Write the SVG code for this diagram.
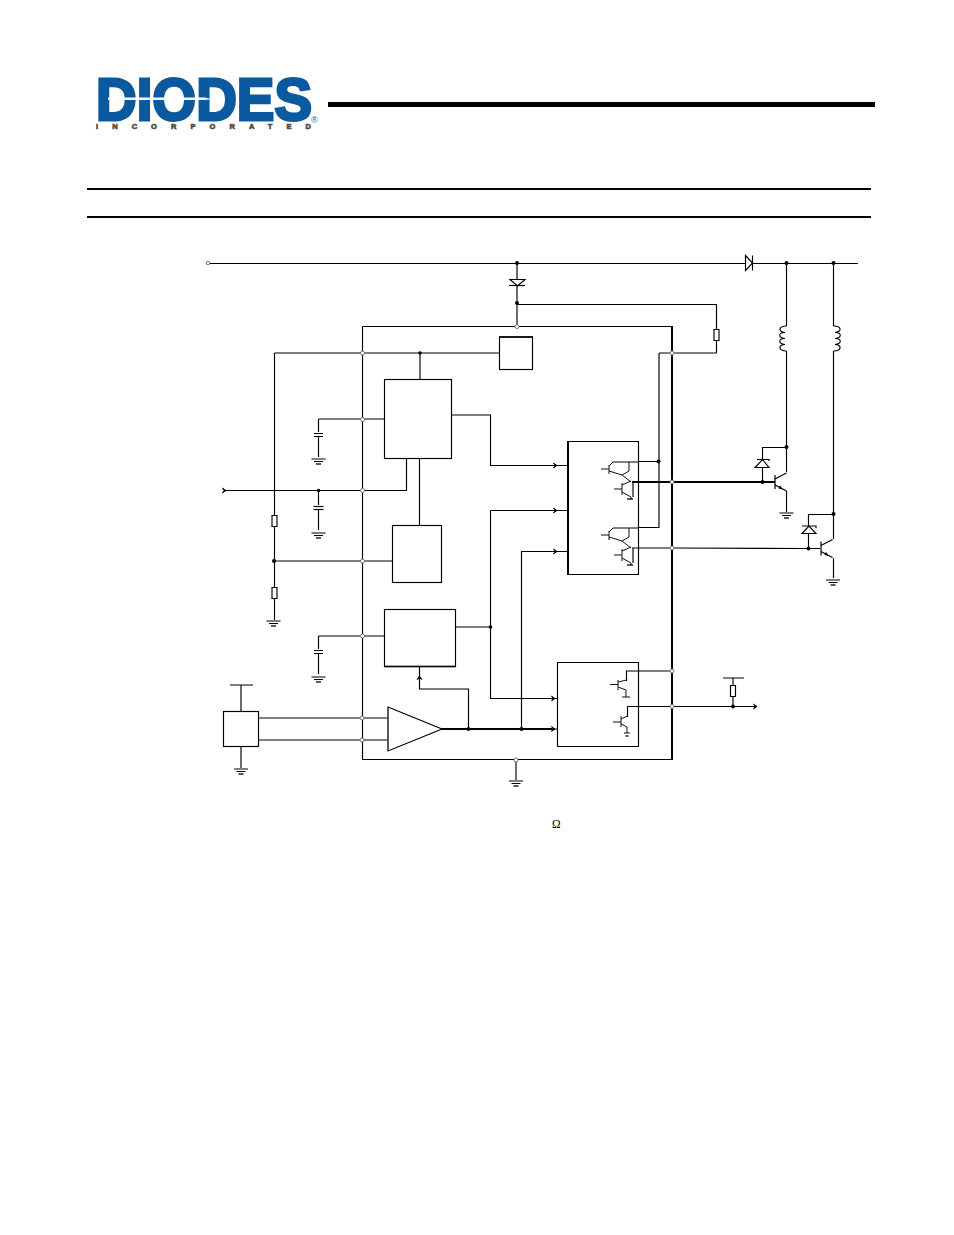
<svg xmlns="http://www.w3.org/2000/svg" width="954" height="1235" viewBox="0 0 954 1235">
<style>
.w{fill:none;stroke:#000;stroke-width:1.15}
.t{fill:none;stroke:#000;stroke-width:2.2}
.b{fill:#fff;stroke:#000;stroke-width:1.15}
.n{fill:#fff;stroke:none}
.d{fill:#000}
.p{fill:#fff;stroke:#666;stroke-width:.9}
.s{fill:none;stroke:#111;stroke-width:1}
</style>
<defs>
<g id="gnd"><path class="w" d="M-7 0H7M-4.500 2.500H4.500"/><path d="M-2.500 5H2.500" stroke="#000" stroke-width="1.300"/></g>
<path id="ah" d="M-3.500-2.500L0 0L-3.500 2.500L-2 0Z" fill="#000" stroke="#000" stroke-width=".8"/>
<g id="dar">
<path class="s" d="M0 0H8M8-4V5M8-3L12-7"/>
<path class="s" d="M8 2L21 6M28-7V2L21 6L30 13"/>
<path class="s" d="M13 20H21M21 14V26M21 16L30 12M21 23L30 28V30"/>
<path class="w" d="M32 13V28"/>
<path d="M26 30H32" stroke="#000" stroke-width="1.300"/>
</g>
<g id="npn"><path class="t" d="M0-7V7" style="stroke-width:1.200"/><path class="w" d="M0-3L11.500-9M0 3L11.500 9"/><path class="d" d="M8 7.500L3.500 6.500L5 3.500Z"/></g>
<path id="res" class="b" d="M-2.500-5.500H2.500V5.500H-2.500Z"/>
</defs>
<g id="logo">
<text x="96" y="120" font-family="Liberation Sans,Arial,sans-serif" font-weight="700" font-size="60" textLength="216" lengthAdjust="spacingAndGlyphs" fill="#0b5aa0" stroke="#0b5aa0" stroke-width="3">DIODES</text>
<path d="M108 97.500H205L211 99L205 100H108Z" fill="#fff"/>
<text x="96" y="129" font-family="Liberation Sans,Arial,sans-serif" font-weight="700" font-size="7.500" textLength="215" fill="#4c4c3c" stroke="#4c4c3c" stroke-width=".6">INCORPORATED</text>
<text x="311" y="123" font-family="Liberation Sans,Arial,sans-serif" font-size="9" fill="#0b5aa0">®</text>
</g>
<g id="rules">
<rect x="328" y="102" width="547" height="5" fill="#000"/>
<rect x="87" y="188" width="784" height="2" fill="#000"/>
<rect x="87" y="216" width="784" height="2" fill="#000"/>
</g>
<g id="connectors">
<path class="w" d="M210 263.500H858M517 263.500V326M517 304.500H716.500V353M362.500 326.500H671.500M362.500 326.500V759.500H671.500"/>
<path d="M672 326V760" stroke="#000" stroke-width="2" fill="none"/>
<path class="w" d="M274.500 353H499M659 353H716.500M420 353V379M274.500 353V620M274.500 561H392"/>
<path class="w" d="M419.500 459V525M406.500 459V490.500H224"/>
<path class="w" d="M318.500 419H384M318.500 419V457M318.500 490.500V530M318.500 636H384M318.500 636V674"/>
<path class="w" d="M451 415H490.500V465.500H568M490.500 510.500H568M490.500 510.500V698M456 627H490.500V698.500H557M521.500 729V551.500H568"/>
<path class="t" d="M441 729H552"/>
<path class="w" d="M552 729H557M468.500 729V689H419.500V667"/>
<path class="w" d="M241 711V685M230 685H253M241 746V768M258 718H388M258 740H388M516 760V780"/>
<path class="w" d="M638 461.500H659M659 353V527.500H638"/>
<path class="t" d="M632 482H775"/>
<path class="w" d="M632 548H672L802 548.500"/>
<path class="w" d="M762.500 482V447.500H786.500M786.500 263.500V472M786.500 491V512"/>
<path class="w" d="M833.500 263.500V539M808.500 548.500V514.500H833.500M802 548.500H820M833.500 558V578"/>
<path class="w" d="M672 671H626.500V681M627.500 717V706.500H757"/>
<path class="w" d="M733 678V685M723 678H744M733 697V706"/>
<use href="#ah" x="226" y="490.500"/>
<use href="#ah" x="557" y="465.500"/><use href="#ah" x="557" y="510.500"/><use href="#ah" x="557" y="551.500"/>
<use href="#ah" x="555" y="698.500"/><use href="#ah" x="555" y="729"/><use href="#ah" x="757" y="706.500"/>
<use href="#ah" x="419.500" y="676" transform="rotate(-90 419.500 676)"/>
</g>
<g id="block-reg"><rect class="b" x="499.500" y="337" width="33" height="32.500"/><path d="M499 337H533" stroke="#000" stroke-width="1.500"/></g>
<g id="block-top"><rect class="b" x="384.500" y="379.500" width="67" height="79"/></g>
<g id="block-mid"><rect class="b" x="392.500" y="525.500" width="49" height="57"/></g>
<g id="block-low"><rect class="b" x="384.500" y="609.500" width="71" height="57"/><path d="M384 666.500H456" stroke="#000" stroke-width="1.500"/></g>
<g id="block-driver"><path class="w" d="M568 441.500H638.500V574.500H568"/><path d="M568 441V575" stroke="#000" stroke-width="2"/>
<path class="w" d="M638 462H613M638 528H613"/>
<use href="#dar" x="601" y="469"/><use href="#dar" x="601" y="535"/>
</g>
<g id="block-out"><path class="w" d="M638.500 662.500H557.500V746.500H638.500Z"/>
<path class="s" d="M610 684.500H618M618 680V690M618 682L626.500 680M618 687L626 690V697M622 697H630"/>
<path class="s" d="M613 722H621M621 716V727M621 719L627.500 716M621 724L627 727V733M624 733H630"/>
<path d="M625.500 736H628.500" stroke="#000" stroke-width="1.300"/>
</g>
<g id="amp"><path d="M388 707L442 729L388 751Z" fill="#fff" stroke="#000" stroke-width="1.150"/><path d="M388 707V751" stroke="#555" stroke-width="1.500"/></g>
<g id="sensor"><rect class="b" x="223.500" y="711.500" width="35" height="35"/></g>
<g id="diode-top"><path class="b" d="M745.500 255.500L752.500 263L745.500 270.500Z"/><path class="w" d="M752.500 255.500V270.500"/></g>
<g id="diode-v"><path class="b" d="M510 279.500H525L517.500 286Z"/><path class="w" d="M509 285.500H525"/></g>
<g id="caps">
<path class="n" d="M313 432H324V437H313Z"/><path class="w" d="M314 433.500H323M314 436.500H323"/>
<path class="n" d="M313 505H324V510H313Z"/><path class="w" d="M313.500 506.500H323.500"/><path class="w" d="M313.500 509.500H323.500"/>
<path class="n" d="M313 649H324V654H313Z"/><path class="w" d="M314 650.500H323M314 653.500H323"/>
</g>
<g id="resistors">
<use href="#res" x="274.500" y="521"/><use href="#res" x="274.500" y="593"/><use href="#res" x="716.500" y="335"/><use href="#res" x="733" y="691"/>
</g>
<g id="inductors">
<path class="n" d="M784 326H789V351H784Z"/><path class="w" d="M786.500 326C778 326 778 332 785 332.500C778 332.500 778 338 785 338.500C778 338.500 778 344 785 344.500C778 344.500 778 351 786.500 351"/>
<path class="n" d="M831 326H836V351H831Z"/><path class="w" d="M833.500 326C842 326 842 332 835 332.500C842 332.500 842 338 835 338.500C842 338.500 842 344 835 344.500C842 344.500 842 351 833.500 351"/>
</g>
<g id="transistors">
<use href="#npn" x="775" y="482"/><use href="#npn" x="821" y="548.500"/>
<path class="b" d="M755 467.500H769L762.500 459.500Z"/><path class="w" d="M755 467.500H769M757 459.500H769V461"/>
<path class="b" d="M802 533.500H816L809 526Z"/><path class="w" d="M802 526H816V528"/>
</g>
<g id="junctions">
<circle class="d" cx="517" cy="263" r="2"/><circle class="d" cx="786.500" cy="263" r="2"/><circle class="d" cx="833.500" cy="263" r="2"/>
<circle class="d" cx="517" cy="303" r="2"/><circle class="d" cx="420" cy="353" r="1.800"/><circle class="d" cx="318.500" cy="490.500" r="1.800"/>
<circle class="d" cx="274" cy="561" r="2"/><circle class="d" cx="490.500" cy="627" r="1.800"/><circle class="d" cx="468.500" cy="729" r="2"/>
<circle class="d" cx="521.500" cy="729" r="2"/><circle class="d" cx="658.500" cy="461.500" r="2"/><circle class="d" cx="762.500" cy="482" r="2"/>
<circle class="d" cx="786.500" cy="447" r="2"/><circle class="d" cx="833.500" cy="514" r="2"/><circle class="d" cx="808.500" cy="548.500" r="2"/>
<circle class="d" cx="733" cy="706.500" r="2"/>
<circle class="p" cx="517" cy="326.500" r="2"/><circle class="p" cx="362.500" cy="353" r="2"/><circle class="p" cx="672" cy="353" r="2"/>
<circle class="p" cx="362.500" cy="419.500" r="2"/><circle class="p" cx="362.500" cy="490.500" r="2"/><circle class="p" cx="362.500" cy="561" r="2"/>
<circle class="p" cx="362.500" cy="636" r="2"/><circle class="p" cx="362" cy="718" r="2"/><circle class="p" cx="362" cy="740" r="2"/>
<circle class="p" cx="516" cy="760" r="2"/><circle class="p" cx="672" cy="482" r="2"/><circle class="p" cx="672" cy="548" r="2"/>
<circle class="p" cx="672" cy="671" r="2"/><circle class="p" cx="672" cy="706.500" r="2"/><circle class="p" cx="208" cy="263" r="1.800"/>
</g>
<g id="grounds">
<use href="#gnd" x="318.500" y="459"/><use href="#gnd" x="318.500" y="533"/><use href="#gnd" x="273.500" y="621"/><use href="#gnd" x="318.500" y="677"/>
<use href="#gnd" x="241" y="769"/><use href="#gnd" x="516" y="781"/><use href="#gnd" x="786.500" y="513"/><use href="#gnd" x="833" y="580"/>
</g>
<text id="omega" x="552" y="828" font-family="Liberation Serif,Times New Roman,serif" font-size="11.500" fill="#000">Ω</text>
</svg>
